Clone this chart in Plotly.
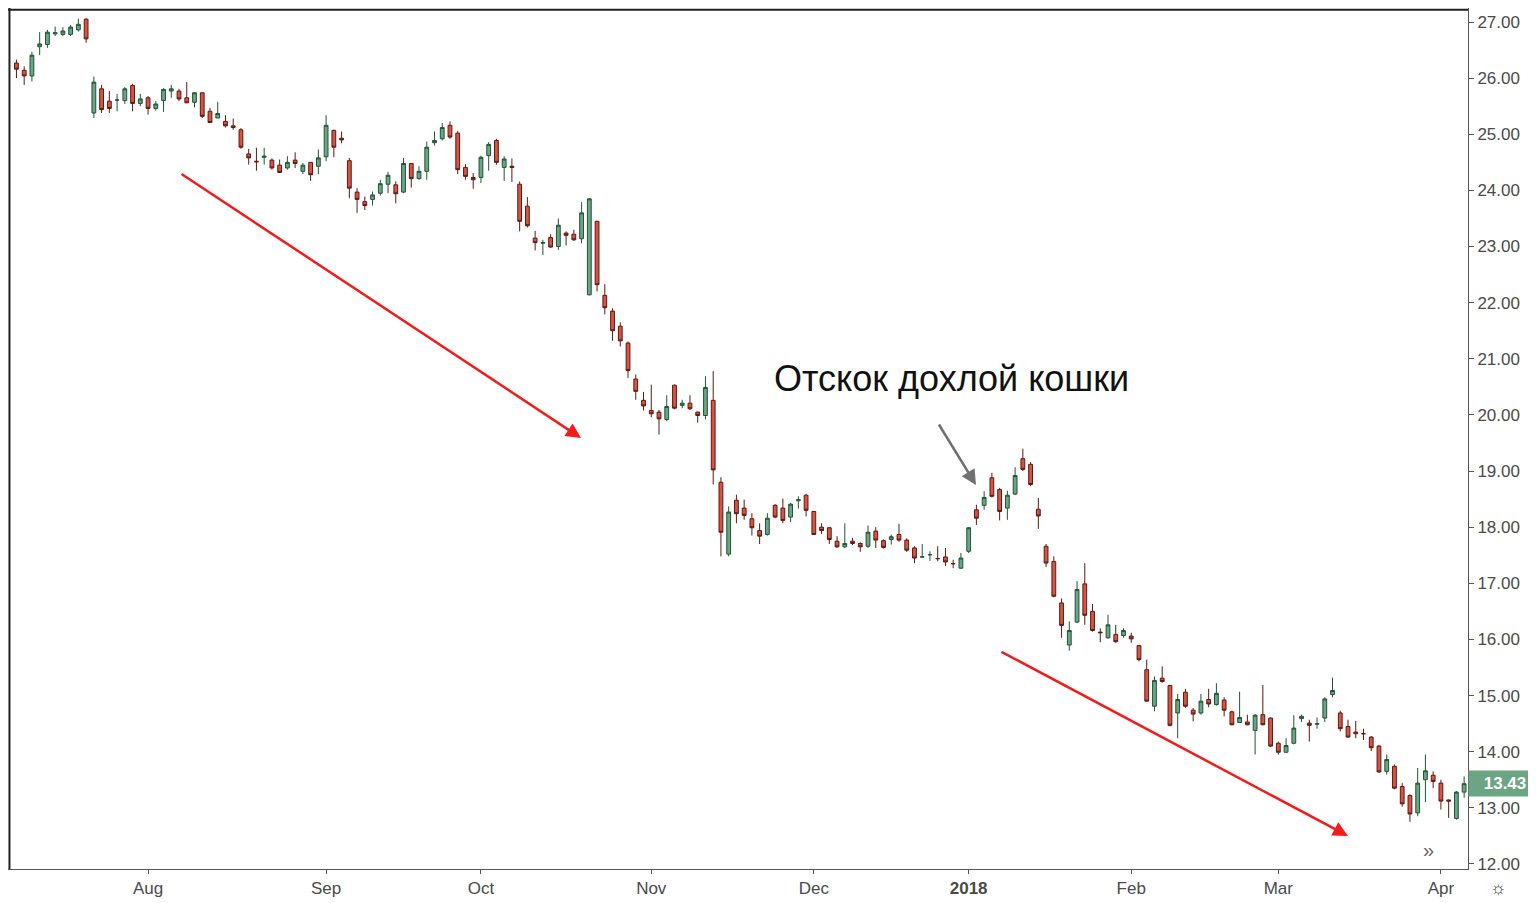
import pandas as pd
import plotly.graph_objects as go
from pandas.tseries.offsets import CustomBusinessDay

# Trading days Jul 7 2017 .. Apr 5 2018 (US market holidays skipped)
holidays = ["2017-09-04", "2017-11-23", "2017-12-25", "2018-01-01",
            "2018-01-15", "2018-02-19", "2018-03-30"]
dates = pd.date_range("2017-07-07", "2018-04-05",
                      freq=CustomBusinessDay(holidays=holidays))

opens = [26.27, 26.14, 26.04, 26.56, 26.60, 26.79, 26.78, 26.78, 26.86, 27.05,
         25.38, 25.81, 25.59, 25.61, 25.60, 25.87, 25.55, 25.65, 25.46, 25.60,
         25.77, 25.77, 25.65, 25.57, 25.74, 25.41, 25.29, 25.23, 25.15, 25.08,
         24.65, 24.52, 24.59, 24.54, 24.45, 24.40, 24.54, 24.34, 24.50, 24.43,
         24.60, 25.07, 24.93, 24.53, 23.97, 23.80, 23.84, 23.95, 24.11, 24.10,
         23.97, 24.48, 24.21, 24.34, 24.85, 24.92, 25.16, 25.02, 24.41, 24.23,
         24.23, 24.62, 24.89, 24.41, 24.43, 24.11, 23.72, 23.15, 23.06, 23.16,
         23.00, 23.24, 23.22, 23.14, 22.14, 23.45, 22.13, 21.85, 21.58, 21.28,
         20.64, 20.26, 20.08, 20.05, 19.92, 20.53, 20.17, 20.21, 20.05, 19.99,
         20.26, 18.80, 17.52, 18.48, 18.34, 18.15, 17.94, 17.87, 18.39, 18.34,
         18.18, 18.47, 18.57, 18.28, 18.00, 17.99, 17.75, 17.65, 17.75, 17.71,
         17.66, 17.93, 17.76, 17.78, 17.87, 17.77, 17.63, 17.47, 17.51, 17.44,
         17.47, 17.35, 17.27, 17.57, 18.31, 18.39, 18.88, 18.67, 18.34, 18.59,
         19.22, 19.12, 18.32, 17.66, 17.39, 16.65, 15.90, 16.31, 16.99, 16.50,
         16.13, 16.03, 16.09, 16.07, 16.06, 15.89, 15.46, 14.81, 15.31, 15.18,
         14.69, 15.06, 14.74, 14.69, 14.93, 14.84, 14.92, 14.71, 14.52, 14.53,
         14.38, 14.66, 14.60, 14.15, 13.99, 14.15, 14.59, 14.51, 14.49, 14.60,
         15.02, 14.69, 14.45, 14.35, 14.32, 14.26, 14.10, 13.65, 13.74, 13.38,
         13.22, 12.91, 13.50, 13.58, 13.44, 13.14, 12.81, 13.28]
highs = [26.33, 26.21, 26.47, 26.82, 26.86, 26.92, 26.91, 26.95, 27.06, 27.07,
         26.03, 25.88, 25.77, 25.72, 25.84, 25.90, 25.72, 25.68, 25.59, 25.82,
         25.88, 25.81, 25.93, 25.75, 25.74, 25.47, 25.58, 25.34, 25.28, 25.11,
         24.74, 24.76, 24.76, 24.57, 24.55, 24.61, 24.68, 24.49, 24.50, 24.73,
         25.34, 25.08, 25.05, 24.58, 24.04, 23.89, 23.98, 24.19, 24.33, 24.16,
         24.58, 24.48, 24.43, 24.87, 25.05, 25.20, 25.23, 25.06, 24.47, 24.31,
         24.62, 24.86, 24.92, 24.61, 24.57, 24.16, 23.88, 23.28, 23.12, 23.22,
         23.50, 23.27, 23.30, 23.79, 23.86, 23.46, 22.33, 21.90, 21.65, 21.31,
         20.72, 20.41, 20.54, 20.09, 20.35, 20.54, 20.27, 20.35, 20.06, 20.69,
         20.78, 18.89, 18.37, 18.58, 18.49, 18.25, 18.07, 18.25, 18.41, 18.51,
         18.43, 18.55, 18.59, 18.29, 18.07, 18.00, 17.84, 18.07, 17.81, 17.73,
         18.03, 18.00, 17.78, 17.87, 18.06, 17.80, 17.66, 17.70, 17.57, 17.66,
         17.63, 17.42, 17.54, 18.00, 18.40, 18.64, 18.97, 18.70, 18.65, 19.07,
         19.40, 19.16, 18.52, 17.70, 17.48, 16.73, 16.32, 17.04, 17.36, 16.63,
         16.20, 16.44, 16.26, 16.20, 16.12, 15.90, 15.64, 15.34, 15.52, 15.19,
         15.03, 15.12, 14.78, 15.03, 15.12, 15.22, 14.97, 14.73, 15.07, 14.66,
         14.67, 15.19, 14.61, 14.18, 14.24, 14.65, 14.66, 14.57, 14.61, 14.97,
         15.32, 14.73, 14.57, 14.55, 14.41, 14.28, 14.12, 13.95, 13.77, 13.44,
         13.24, 13.71, 13.95, 13.65, 13.50, 13.15, 13.30, 13.56]
lows = [26.00, 25.88, 25.94, 26.41, 26.54, 26.75, 26.75, 26.75, 26.83, 26.63,
        25.29, 25.38, 25.38, 25.41, 25.54, 25.41, 25.50, 25.35, 25.42, 25.40,
        25.65, 25.59, 25.56, 25.48, 25.29, 25.20, 25.29, 25.12, 25.08, 24.74,
        24.46, 24.35, 24.46, 24.37, 24.31, 24.37, 24.40, 24.29, 24.17, 24.29,
        24.52, 24.59, 24.84, 23.86, 23.60, 23.65, 23.73, 23.91, 23.95, 23.77,
        23.95, 24.05, 24.19, 24.19, 24.80, 24.89, 24.92, 24.29, 24.19, 24.03,
        24.13, 24.35, 24.46, 24.17, 24.15, 23.27, 23.34, 22.93, 22.85, 22.98,
        22.94, 23.02, 23.10, 23.06, 22.13, 22.20, 21.79, 21.32, 21.22, 20.66,
        20.27, 20.08, 19.96, 19.65, 19.89, 20.10, 20.12, 20.09, 19.86, 19.92,
        18.76, 17.48, 17.48, 18.07, 18.13, 17.85, 17.70, 17.85, 18.16, 18.07,
        18.09, 18.33, 18.19, 17.87, 17.88, 17.70, 17.63, 17.63, 17.68, 17.56,
        17.63, 17.63, 17.62, 17.69, 17.74, 17.56, 17.36, 17.46, 17.40, 17.39,
        17.31, 17.27, 17.26, 17.54, 18.04, 18.31, 18.53, 18.12, 18.13, 18.57,
        19.00, 18.73, 17.97, 17.29, 16.75, 16.03, 15.80, 16.29, 16.26, 16.14,
        15.95, 16.01, 15.94, 16.03, 15.94, 15.61, 14.90, 14.72, 15.23, 14.45,
        14.24, 14.78, 14.54, 14.66, 14.79, 14.82, 14.63, 14.47, 14.51, 14.47,
        13.95, 14.47, 14.08, 13.95, 13.98, 14.13, 14.53, 14.18, 14.41, 14.53,
        14.97, 14.36, 14.25, 14.24, 14.21, 14.01, 13.62, 13.59, 13.33, 13.02,
        12.75, 12.85, 13.10, 13.35, 12.97, 12.82, 12.79, 13.18]
closes = [26.16, 26.04, 26.41, 26.61, 26.82, 26.81, 26.84, 26.91, 26.96, 26.70,
          25.93, 25.44, 25.46, 25.61, 25.81, 25.55, 25.63, 25.46, 25.54, 25.80,
          25.81, 25.63, 25.56, 25.74, 25.32, 25.21, 25.37, 25.15, 25.12, 24.77,
          24.58, 24.51, 24.61, 24.40, 24.32, 24.50, 24.48, 24.45, 24.28, 24.58,
          25.16, 24.77, 24.90, 24.04, 23.84, 23.73, 23.92, 24.12, 24.27, 23.94,
          24.48, 24.21, 24.34, 24.77, 24.89, 25.12, 24.95, 24.37, 24.25, 24.19,
          24.59, 24.82, 24.50, 24.56, 24.41, 23.45, 23.37, 23.07, 23.07, 22.99,
          23.38, 23.20, 23.12, 23.60, 23.85, 22.32, 21.91, 21.50, 21.32, 20.79,
          20.42, 20.16, 20.02, 19.93, 20.15, 20.12, 20.21, 20.11, 19.99, 20.49,
          19.02, 17.91, 18.27, 18.24, 18.21, 17.99, 17.84, 18.16, 18.18, 18.12,
          18.41, 18.49, 18.30, 17.87, 17.94, 17.78, 17.65, 17.71, 17.71, 17.65,
          17.91, 17.77, 17.64, 17.83, 17.77, 17.59, 17.45, 17.47, 17.51, 17.44,
          17.38, 17.35, 17.45, 17.99, 18.16, 18.53, 18.55, 18.28, 18.57, 18.92,
          19.03, 18.76, 18.20, 17.36, 16.77, 16.25, 16.16, 16.89, 16.43, 16.16,
          16.12, 16.26, 15.96, 16.16, 16.01, 15.64, 14.90, 15.27, 15.25, 14.47,
          14.93, 14.81, 14.67, 14.90, 14.85, 15.04, 14.74, 14.48, 14.61, 14.48,
          14.65, 14.48, 14.10, 13.99, 14.11, 14.42, 14.63, 14.47, 14.50, 14.94,
          15.09, 14.41, 14.26, 14.32, 14.32, 14.07, 13.64, 13.86, 13.35, 13.07,
          12.89, 13.44, 13.66, 13.47, 13.12, 13.12, 13.28, 13.43]

tick_dates = ["2017-08-01", "2017-09-01", "2017-10-02", "2017-11-01", "2017-12-01",
              "2018-01-02", "2018-02-01", "2018-03-01", "2018-04-02"]
tick_text = ["Aug", "Sep", "Oct", "Nov", "Dec", "<b>2018</b>", "Feb", "Mar", "Apr"]
price_ticks = list(range(12, 28))

x = [d.strftime("%Y-%m-%d") for d in dates]

fig = go.Figure(go.Candlestick(
    x=x, open=opens, high=highs, low=lows, close=closes,
    increasing=dict(fillcolor="#6ba583", line=dict(color="#225437", width=1)),
    decreasing=dict(fillcolor="#d75442", line=dict(color="#5b1a13", width=1)),
    whiskerwidth=0, showlegend=False,
))

W, H = 1460, 861  # plot area in px

def paper(px, py):
    return px / W, 1 - py / H

annotations = []
# red trend arrows and grey pointer
for (x0, y0, x1, y1, col, w) in [(172, 165, 573, 430, "#f21c1c", 2.5),
                                  (992, 643, 1340, 828, "#f21c1c", 2.5),
                                  (930, 415, 968, 477, "#707070", 2.5)]:
    hx, hy = paper(x1, y1)
    annotations.append(dict(x=hx, y=hy, xref="paper", yref="paper",
                            ax=x0 - x1, ay=y0 - y1, axref="pixel", ayref="pixel",
                            showarrow=True, arrowhead=2, arrowsize=1.2,
                            arrowwidth=w, arrowcolor=col, text=""))
tx, ty = paper(943, 370)
annotations.append(dict(x=tx, y=ty, xref="paper", yref="paper", showarrow=False,
                        text="Отскок дохлой кошки",
                        font=dict(size=36, color="#111", family="Liberation Sans")))
annotations.append(dict(x=1, y=closes[-1], xref="paper", yref="y", xanchor="left",
                        showarrow=False, text="<b>13.43</b>", bgcolor="#6ba583",
                        font=dict(size=17, color="white", family="Liberation Sans"),
                        borderpad=3, width=66))
fx, fy = paper(1428, 855)
annotations.append(dict(x=fx, y=fy, xref="paper", yref="paper", showarrow=False,
                        text="»", font=dict(size=20, color="#666")))
annotations.append(dict(x=1.028, y=-0.008, xref="paper", yref="paper", showarrow=False,
                        yanchor="top", text="☼", font=dict(size=18, color="#333")))

fig.update_layout(
    width=1536, height=903,
    margin=dict(l=0, r=76, t=0, b=42),
    plot_bgcolor="white", paper_bgcolor="white",
    font=dict(family="Liberation Sans", size=17, color="#4a4a4a"),
    annotations=annotations,
    shapes=[dict(type="line", xref="paper", yref="paper", x0=0, x1=1, y0=0.998, y1=0.998,
                 line=dict(color="#222", width=2)),
            dict(type="line", xref="paper", yref="paper", x0=0.001, x1=0.001, y0=0, y1=1,
                 line=dict(color="#222", width=2))],
    xaxis=dict(type="category", rangeslider=dict(visible=False),
               range=[-1.09, len(x) - 0.5],
               tickmode="array", tickvals=tick_dates, ticktext=tick_text,
               showgrid=False, showline=True, linecolor="#555", linewidth=1,
               ticks="outside", ticklen=4, tickcolor="#555", mirror=False),
    yaxis=dict(side="right", range=[11.91, 27.25], tickvals=price_ticks,
               tickformat=".2f", showgrid=False, showline=True, linecolor="#555",
               linewidth=1, ticks="outside", ticklen=5, tickcolor="#555"),
)

fig.write_html("out.html")
